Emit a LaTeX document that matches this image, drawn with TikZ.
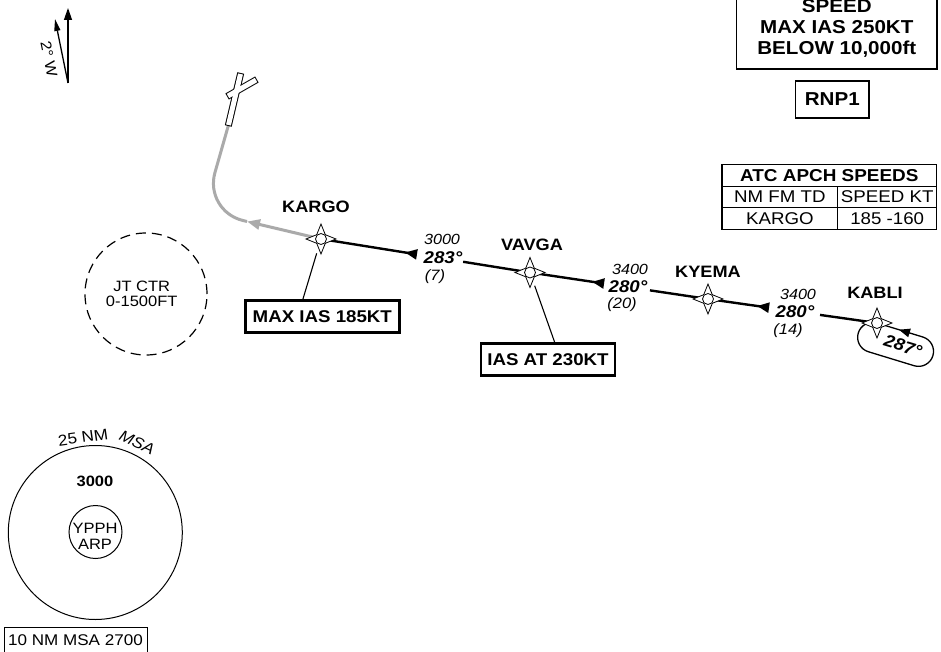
\documentclass[tikz,border=0pt]{standalone}
\usepackage{fontspec}
\setmainfont{Liberation Sans}[FakeStretch=1.1]
\usetikzlibrary{arrows.meta,calc}
\newcommand{\fsz}[2]{\fontsize{#1}{#2}\selectfont}
\definecolor{routegrey}{RGB}{170,170,170}
\tikzset{
  route/.style={line width=2.4pt, line cap=butt},
  rtarrow/.style={-{Triangle[reversed,length=12pt,width=10pt]}},
  greyroute/.style={line width=3pt, draw=routegrey},
  leader/.style={line width=1.1pt},
  callout/.style={draw, line width=2.8pt, font=\bfseries\fsz{17}{20}, inner sep=0pt},
  wptname/.style={font=\bfseries\fsz{16.5}{18}, inner sep=0pt},
  altlbl/.style={font=\itshape\fsz{14.7}{16}, inner sep=0pt},
  crslbl/.style={font=\bfseries\itshape\fsz{17}{19}, inner sep=0pt},
  distlbl/.style={font=\itshape\fsz{15}{16}, inner sep=0pt},
  cell/.style={draw, line width=1.1pt, inner sep=0pt, font=\fsz{17}{18}},
  plain/.style={inner sep=0pt},
  wpt/.pic={
    \filldraw[fill=white, draw=black, line width=0.8pt]
      (0,-15) -- (4.3,-4.3) -- (15,0) -- (4.3,4.3) -- (0,15) -- (-4.3,4.3) -- (-15,0) -- (-4.3,-4.3) -- cycle;
    \filldraw[fill=white, draw=black, line width=0.8pt] (0,0) circle[radius=5.5];
  }
}
\begin{document}
\begin{tikzpicture}[x=1pt,y=-1pt]
\useasboundingbox (0,0) rectangle (941,652);
\fill[white] (0,0) rectangle (941,652);

% north arrows
\coordinate (NB) at (68,83);
\coordinate (NT) at (68,8);
\coordinate (MT) at (55,19);
\draw[line width=1.3pt, -{Triangle[length=12pt,width=8pt]}] (NB) -- (NT);
\draw[line width=1.3pt, -{Triangle[length=12pt,width=6pt]}] (NB) -- (MT);
\node[plain, rotate=-78.5, font=\fsz{15}{15}] (var) at (49,59) {2° W};

% waypoints
\coordinate (KARGO) at (321,239);
\coordinate (VAVGA) at (530,272.5);
\coordinate (KYEMA) at (708,299);
\coordinate (KABLI) at (877,323);

% grey route to runway
\coordinate (G1) at (247,221.5);
\coordinate (G2) at (204,211);
\coordinate (RB) at (228.5,125);
\coordinate (RT) at (240.5,74);
\coordinate (XL) at (228,96);
\coordinate (XR) at (256,80);
\draw[greyroute, -{Triangle[length=13pt,width=10pt]}] (KARGO) -- (G1);
\draw[greyroute, rounded corners=40] (G1) -- (G2) -- (RB);
% runway
\draw[line width=7pt, line cap=butt, shorten <=-1pt, shorten >=-1pt] (RB) -- (RT);
\draw[line width=7pt, line cap=butt, shorten <=-1pt, shorten >=-1pt] (XL) -- (XR);
\draw[line width=5pt, white, line cap=butt] (RB) -- (RT);
\draw[line width=5pt, white, line cap=butt] (XL) -- (XR);

% black route
\draw[route, rtarrow] (KARGO) -- ($(KARGO)!0.459!(VAVGA)$);
\draw[route] ($(KARGO)!0.68!(VAVGA)$) -- (VAVGA);
\draw[route, rtarrow] (VAVGA) -- ($(VAVGA)!0.416!(KYEMA)$);
\draw[route] ($(VAVGA)!0.674!(KYEMA)$) -- (KYEMA);
\draw[route, rtarrow] (KYEMA) -- ($(KYEMA)!0.361!(KABLI)$);
\draw[route] ($(KYEMA)!0.663!(KABLI)$) -- (KABLI);

% holding at KABLI
\begin{scope}[shift={(KABLI)}, rotate=-17]
  \draw[line width=1.3pt, rounded corners=15] (-15,0) rectangle (63,30);
  \fill (23,0) -- (34,-4.5) -- (34,4.5) -- cycle;
\end{scope}
\node[crslbl, rotate=-17] (hold) at (903,346) {287°};

% waypoint symbols
\pic at (KARGO) {wpt};
\pic at (VAVGA) {wpt};
\pic at (KYEMA) {wpt};
\pic at (KABLI) {wpt};

\node[wptname] (nKARGO) at (316,207) {KARGO};
\node[wptname] (nVAVGA) at (532,245) {VAVGA};
\node[wptname] (nKYEMA) at (708,272) {KYEMA};
\node[wptname] (nKABLI) at (875,293) {KABLI};

% leg labels
\node[altlbl] (a1) at (442,239) {3000};
\node[crslbl] (c1) at (443,258) {283°};
\node[distlbl] (d1) at (435,277) {(7)};
\node[altlbl] (a2) at (630,269) {3400};
\node[crslbl] (c2) at (628,287) {280°};
\node[distlbl] (d2) at (622,305) {(20)};
\node[altlbl] (a3) at (798,294) {3400};
\node[crslbl] (c3) at (795,312) {280°};
\node[distlbl] (d3) at (788,331) {(14)};

% callouts
\node[callout, minimum width=154pt, minimum height=32pt] (maxbox) at (322.3,316.6) {MAX IAS 185KT};
\node[callout, minimum width=134pt, minimum height=32pt] (iasbox) at (548,359.5) {IAS AT 230KT};
\draw[leader, shorten >=15pt] ($(maxbox.north west)+(59,0)$) -- (KARGO);
\draw[leader, shorten >=14pt] ($(iasbox.north west)+(75,0)$) -- (VAVGA);

% JT CTR
\node[circle, draw, line width=1.2pt, dash pattern=on 10pt off 6pt, minimum size=122pt, inner sep=0pt] (jtctr) at (146,294) {};
\node[plain, align=center, font=\fsz{15}{15}] (jtctrt) at (141.7,294) {JT CTR\\0-1500FT};

% MSA
\node[circle, draw, line width=1pt, minimum size=174pt, inner sep=0pt] (msa) at (95.3,532.5) {};
\node[circle, draw, line width=1pt, minimum size=53pt, inner sep=0pt] (arp) at (95.5,532) {};
\node[plain, align=center, font=\fsz{15}{16.3}] (arpt) at (95,536) {YPPH\\ARP};
\node[plain, font=\bfseries\fsz{15}{16}] (msaalt) at (95,481) {3000};
\node[plain, rotate=8, font=\fsz{15.5}{16}] (msa25) at (83,437.5) {25 NM};
\node[plain, rotate=-25, font=\itshape\fsz{15.5}{16}] (msalbl) at (137,442.5) {MSA};
\node[draw, line width=1.1pt, minimum width=143.7pt, minimum height=34.7pt, inner sep=0pt] (msa10) at (75.9,644.6) {};
\node[plain, font=\fsz{15.5}{16}] (msa10t) at (75.5,640) {10 NM MSA 2700};

% top right boxes
\node[draw, line width=1.1pt, minimum width=200.3pt, minimum height=81pt, inner sep=0pt, align=center, font=\bfseries\fsz{18.7}{21}] (speed) at (836.8,28.5) {SPEED\\MAX IAS 250KT\\BELOW 10,000ft};
\node[draw, line width=1.1pt, minimum width=73.3pt, minimum height=37pt, inner sep=0pt, font=\bfseries\fsz{18.7}{21}] (rnp) at (832.3,99.5) {RNP1};

% table
\node[cell, minimum width=214.7pt, minimum height=22.4pt, font=\bfseries\fsz{17.2}{18}] (ttl) at (829.3,175.5) {ATC APCH SPEEDS};
\node[cell, minimum width=115.7pt, minimum height=20.6pt] (r2c1) at (779.85,197) {NM FM TD};
\node[cell, minimum width=99pt, minimum height=20.6pt] (r2c2) at (887.2,197) {SPEED KT};
\node[cell, minimum width=115.7pt, minimum height=22pt] (r3c1) at (779.85,218.3) {KARGO};
\node[cell, minimum width=99pt, minimum height=22pt] (r3c2) at (887.2,218.3) {185 -160};
\end{tikzpicture}
\end{document}
